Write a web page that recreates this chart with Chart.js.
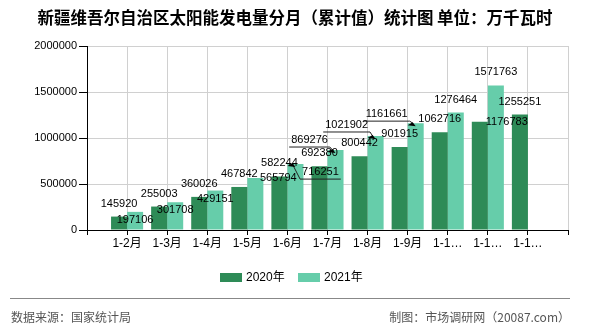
<!DOCTYPE html>
<html>
<head>
<meta charset="utf-8">
<script src="https://cdn.jsdelivr.net/npm/chart.js@4"></script>
<style>
  html, body { margin: 0; padding: 0; background: #fff; }
  #wrap { width: 590px; height: 330px; }
</style>
</head>
<body>
<div id="wrap"><canvas id="chart" width="590" height="330"></canvas></div>
<script>
var categories = ["1-2月", "1-3月", "1-4月", "1-5月", "1-6月", "1-7月", "1-8月", "1-9月", "1-10月", "1-11月", "1-12月"];
var values2020 = [145920, 255003, 360026, 467842, 582244, 692380, 800442, 901915, 1062716, 1176783, 1255251];
var values2021 = [197106, 301708, 429151, 565794, 716251, 869276, 1021902, 1161661, 1276464, 1571763, null];
var seriesNames = ["2020年", "2021年"];
var yTicks = [0, 500000, 1000000, 1500000, 2000000];

// label nudges [dx, dy] from the default spot above a bar (null = default),
// copied from how the original layout shuffled overlapping labels
var nudge2020 = [null, null, null, null, null, null, null, null, null, [27, 13], null];
var nudge2021 = [[0, 21], [0, 21], [0, 21], [23, 13], [25, 21], [-26, 3], [-29, 2], [-29, 4], null, null, null];
var leader2021 = [false, false, false, false, true, true, true, true, false, false, false];

var colors = ["#2E8B57", "#66CDAA"];
var numFont = "Liberation Sans, Arial, 'Noto Sans CJK SC', sans-serif";

function pad(arr) { return [null].concat(arr, [null]); }

var barLabels = {
  id: "barLabels",
  afterDatasetsDraw: function (chart) {
    var ctx = chart.ctx;
    var nudges = [nudge2020, nudge2021];
    var vals = [values2020, values2021];
    ctx.save();
    ctx.font = "11px " + numFont;
    ctx.textAlign = "center";
    ctx.textBaseline = "middle";
    for (var d = 0; d < 2; d++) {
      var meta = chart.getDatasetMeta(d);
      for (var i = 0; i < categories.length; i++) {
        var v = vals[d][i];
        if (v == null) continue;
        var bar = meta.data[i + 1];
        var n = nudges[d][i] || [0, 0];
        var x = bar.x + n[0];
        var y = bar.y - 13 + n[1];
        var txt = String(v);
        ctx.fillStyle = "#000";
        ctx.fillText(txt, x, y);
        if (d === 1 && leader2021[i]) {
          var w = ctx.measureText(txt).width;
          var left = x - w / 2 - 2, right = x + w / 2 + 2, under = y + 7;
          var ax = bar.x - 3, ay = bar.y;
          var near = Math.abs(ax - left) < Math.abs(ax - right) ? left : right;
          ctx.strokeStyle = "#222";
          ctx.lineWidth = 1;
          ctx.beginPath();
          ctx.moveTo(left, under);
          ctx.lineTo(right, under);
          ctx.moveTo(near, under);
          ctx.lineTo(ax, ay);
          ctx.stroke();
          ctx.fillStyle = "#000";
          ctx.beginPath();
          ctx.moveTo(ax, ay - 1);
          ctx.lineTo(ax - 5, ay + 2);
          ctx.lineTo(ax + 3, ay + 3);
          ctx.closePath();
          ctx.fill();
        }
      }
    }
    ctx.restore();
  }
};

var frame = {
  id: "frame",
  afterDraw: function (chart) {
    var ctx = chart.ctx;
    ctx.save();
    // title
    ctx.fillStyle = "#000";
    ctx.font = "bold 16.5px 'Noto Sans CJK SC', sans-serif";
    ctx.textAlign = "center";
    ctx.textBaseline = "middle";
    ctx.fillText("新疆维吾尔自治区太阳能发电量分月（累计值）统计图 单位：万千瓦时", 295, 18);
    // legend
    var lx = [220, 298];
    ctx.font = "12px " + numFont;
    ctx.textAlign = "left";
    for (var k = 0; k < 2; k++) {
      ctx.fillStyle = colors[k];
      ctx.fillRect(lx[k], 273, 22, 9);
      ctx.fillStyle = "#000";
      ctx.fillText(seriesNames[k], lx[k] + 26, 277.5);
    }
    // divider and footer
    ctx.strokeStyle = "#888";
    ctx.lineWidth = 1;
    ctx.beginPath();
    ctx.moveTo(10, 298.5);
    ctx.lineTo(570, 298.5);
    ctx.stroke();
    ctx.fillStyle = "#555";
    ctx.font = "12px 'Noto Sans CJK SC', sans-serif";
    ctx.fillText("数据来源：国家统计局", 11, 317);
    ctx.textAlign = "right";
    ctx.fillText("制图：市场调研网（20087.com）", 570, 317);
    ctx.restore();
  }
};

new Chart(document.getElementById("chart"), {
  type: "bar",
  data: {
    labels: [""].concat(categories, [""]),
    datasets: [
      { label: seriesNames[0], data: pad(values2020), backgroundColor: colors[0] },
      { label: seriesNames[1], data: pad(values2021), backgroundColor: colors[1] }
    ]
  },
  options: {
    responsive: false,
    animation: false,
    layout: { padding: { left: 0, right: 22, top: 46, bottom: 0 } },
    datasets: { bar: { categoryPercentage: 0.8, barPercentage: 1.0 } },
    plugins: {
      legend: { display: false },
      title: { display: false },
      tooltip: { enabled: false }
    },
    scales: {
      x: {
        offset: false,
        grid: { color: "#d0d0d0", tickColor: "#000", tickLength: 5, offset: false },
        border: { color: "#000", width: 1 },
        ticks: {
          autoSkip: false,
          maxRotation: 0,
          padding: 1,
          color: "#000",
          font: { size: 12, family: numFont },
          callback: function (value) {
            var l = this.getLabelForValue(value);
            return l.length > 4 ? l.slice(0, 3) + "…" : l;
          }
        },
        afterFit: function (s) { s.height = 100; }
      },
      y: {
        min: 0,
        max: 2000000,
        afterBuildTicks: function (s) { s.ticks = yTicks.map(function (v) { return { value: v }; }); },
        grid: { color: "#d0d0d0", tickColor: "#000", tickLength: 8 },
        border: { color: "#000", width: 1 },
        ticks: {
          padding: 2,
          color: "#000",
          font: { size: 11, family: numFont },
          callback: function (v) { return String(v); }
        },
        afterFit: function (s) { s.width = 87; }
      }
    }
  },
  plugins: [barLabels, frame]
});
</script>
</body>
</html>
